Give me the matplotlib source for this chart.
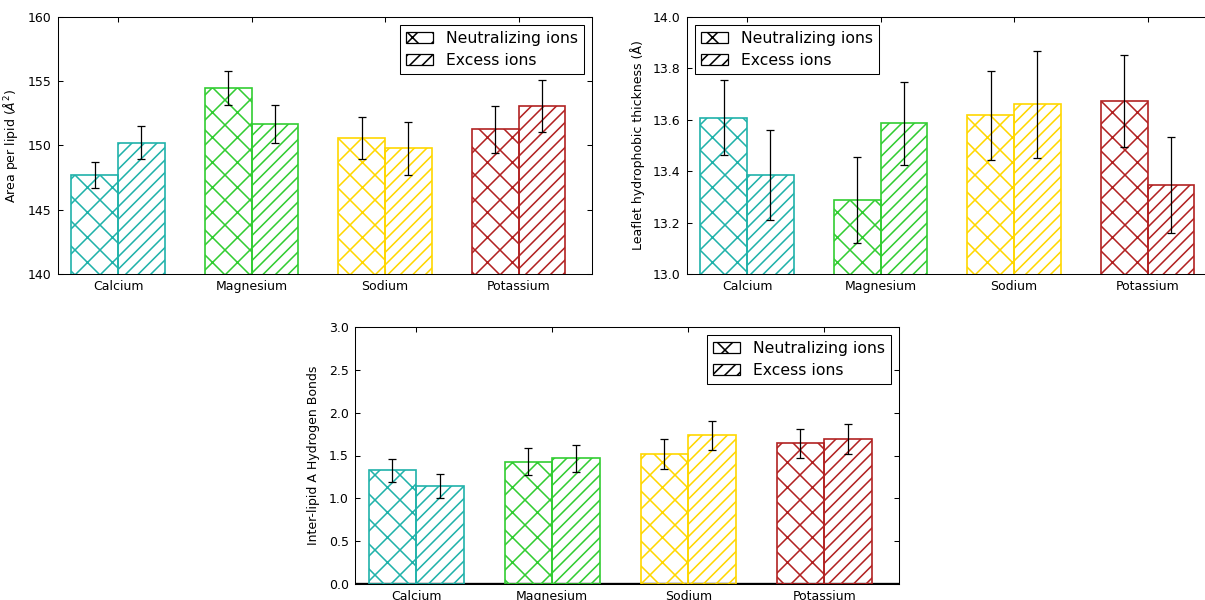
import numpy as np
import matplotlib
matplotlib.use("Agg")
import matplotlib.pyplot as plt
from matplotlib.patches import Patch

ions = ['Calcium', 'Magnesium', 'Sodium', 'Potassium']
colors = ['#20B2AA', '#32CD32', '#FFD700', '#B22222']

# area per lipid (A^2)
apl_neut = [147.7, 154.45, 150.57, 151.25]
apl_neut_err = [1.0, 1.31, 1.62, 1.83]
apl_exc = [150.23, 151.66, 149.77, 153.06]
apl_exc_err = [1.27, 1.5, 2.08, 2.01]

# leaflet hydrophobic thickness (A)
thk_neut = [13.608, 13.288, 13.617, 13.673]
thk_neut_err = [0.145, 0.169, 0.174, 0.18]
thk_exc = [13.386, 13.587, 13.66, 13.348]
thk_exc_err = [0.176, 0.162, 0.208, 0.187]

# inter-lipid A hydrogen bonds
hb_neut = [1.328, 1.426, 1.519, 1.644]
hb_neut_err = [0.135, 0.158, 0.173, 0.168]
hb_exc = [1.141, 1.465, 1.737, 1.695]
hb_exc_err = [0.14, 0.154, 0.17, 0.172]

plt.rcParams['font.family'] = 'DejaVu Sans'
plt.rcParams['hatch.linewidth'] = 0.75
plt.rcParams['font.size'] = 6

DPI = 150
fig = plt.figure(figsize=(1206 / DPI, 600 / DPI), dpi=DPI)

width = 0.35
ind = np.arange(len(ions))


def make_panel(rect, neut, neut_err, exc, exc_err, ylim, yticks, ylabel,
               legend_loc, baseline=False):
    ax = fig.add_axes(rect)
    if baseline:
        ax.axhline(0, color='k', lw=1.6, zorder=0.5)
    ax.bar(ind, neut, width, align='edge', color='none', edgecolor=colors,
           hatch='xx', linewidth=0.8, zorder=2)
    ax.bar(ind + width, exc, width, align='edge', color='none', edgecolor=colors,
           hatch='////', linewidth=0.8, zorder=2)
    ax.errorbar(ind + width / 2, neut, yerr=neut_err, fmt='none', ecolor='k',
                elinewidth=0.6, capsize=1.7, capthick=0.6, zorder=3)
    ax.errorbar(ind + 1.5 * width, exc, yerr=exc_err, fmt='none', ecolor='k',
                elinewidth=0.6, capsize=1.7, capthick=0.6, zorder=3)
    ax.set_xlim(-0.1, 3.9)
    ax.set_ylim(*ylim)
    ax.set_yticks(yticks)
    ax.set_xticks(ind + width)
    ax.set_xticklabels(ions)
    ax.set_ylabel(ylabel, fontsize=6, labelpad=4)
    ax.tick_params(direction='in', top=True, right=True, length=2.2, width=0.5,
                   labelsize=6, pad=3)
    for s in ax.spines.values():
        s.set_linewidth(0.5)
    handles = [Patch(facecolor='white', edgecolor='k', hatch='xx', linewidth=0.6,
                     label='Neutralizing ions'),
               Patch(facecolor='white', edgecolor='k', hatch='////', linewidth=0.6,
                     label='Excess ions')]
    leg = ax.legend(handles=handles, loc=legend_loc, fontsize=7.5, fancybox=False,
                    edgecolor='k', framealpha=1, handlelength=1.75, handleheight=0.7,
                    borderaxespad=0.5, labelspacing=0.45, handletextpad=0.8,
                    borderpad=0.4)
    leg.get_frame().set_linewidth(0.5)
    return ax


make_panel([58 / 1206, 1 - 274 / 600, 534 / 1206, 257 / 600],
           apl_neut, apl_neut_err, apl_exc, apl_exc_err,
           (140, 160), [140, 145, 150, 155, 160],
           r'Area per lipid ($\AA^2$)', 'upper right')

ax2 = make_panel([687 / 1206, 1 - 274 / 600, 534 / 1206, 257 / 600],
                 thk_neut, thk_neut_err, thk_exc, thk_exc_err,
                 (13.0, 14.0), [13.0, 13.2, 13.4, 13.6, 13.8, 14.0],
                 'Leaflet hydrophobic thickness (Å)', 'upper left')
ax2.set_yticklabels(['13.0', '13.2', '13.4', '13.6', '13.8', '14.0'])

ax3 = make_panel([355 / 1206, 1 - 584 / 600, 544 / 1206, 257 / 600],
                 hb_neut, hb_neut_err, hb_exc, hb_exc_err,
                 (0, 3.0), [0, 0.5, 1.0, 1.5, 2.0, 2.5, 3.0],
                 'Inter-lipid A Hydrogen Bonds', 'upper right', baseline=True)
ax3.set_yticklabels(['0.0', '0.5', '1.0', '1.5', '2.0', '2.5', '3.0'])

fig.savefig('out.png', dpi=DPI)
